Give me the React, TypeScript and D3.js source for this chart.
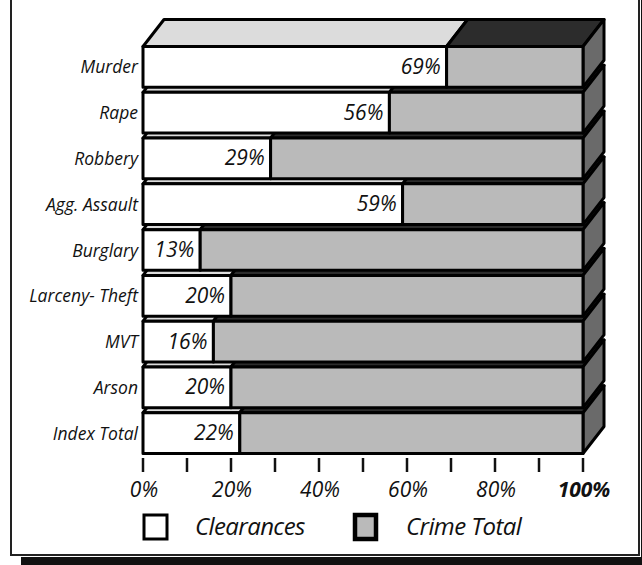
import React from "react";
import * as d3 from "d3";

const categories = ["Murder", "Rape", "Robbery", "Agg. Assault", "Burglary", "Larceny- Theft", "MVT", "Arson", "Index Total"];
const clearances = [69, 56, 29, 59, 13, 20, 16, 20, 22];
const tickValues = [0, 10, 20, 30, 40, 50, 60, 70, 80, 90, 100];
const tickLabels = [0, 20, 40, 60, 80, 100];
const legendLabels = ["Clearances", "Crime Total"];

const W = 642, H = 565;
const FONT = "'Open Sans', Lato, sans-serif";
const DX = 21, DY = 27;

export default function App() {
  const x = d3.scaleLinear().domain([0, 100]).range([143, 583]);
  const y = d3.scaleBand<string>().domain(categories).range([41.5, 458.5]).padding(0.11);
  const bw = y.bandwidth();
  const pts = (a: [number, number][]) => a.map(p => p.join(",")).join(" ");
  const order = categories.map((c, i) => i).reverse();
  const sw = 3;
  return (
    <svg width={W} height={H} style={{ position: "absolute", left: 0, top: 0, background: "#fff" }}>
      {/* frame shadow */}
      <rect x={21} y={557} width={640} height={20} fill="#111" />
      <rect x={641} y={-10} width={20} height={580} fill="#111" />
      <rect x={11} y={-10} width={628} height={565} fill="#fff" stroke="#222" strokeWidth={2} />
      {/* category labels */}
      {categories.map(c => (
        <text key={c} x={138} y={(y(c) as number) + bw / 2 + 6.5} textAnchor="end" fontFamily={FONT} fontStyle="italic" fontSize={17.5} fill="#111">{c}</text>
      ))}
      {/* bars from bottom to top */}
      {order.map(i => {
        const c = categories[i];
        const y0 = y(c) as number;
        const y1 = y0 + bw;
        const x0 = x(0), xc = x(clearances[i]), x1 = x(100);
        return (
          <g key={c} stroke="#000" strokeWidth={sw} strokeLinejoin="round">
            <polygon points={pts([[x0, y0], [xc, y0], [xc + DX, y0 - DY], [x0 + DX, y0 - DY]])} fill="#dcdcdc" />
            <polygon points={pts([[xc, y0], [x1, y0], [x1 + DX, y0 - DY], [xc + DX, y0 - DY]])} fill="#2c2c2c" />
            <polygon points={pts([[x1, y0], [x1 + DX, y0 - DY], [x1 + DX, y1 - DY], [x1, y1]])} fill="#6a6a6a" />
            <rect x={x0} y={y0} width={xc - x0} height={bw} fill="#fff" />
            <rect x={xc} y={y0} width={x1 - xc} height={bw} fill="#bababa" />
          </g>
        );
      })}
      {/* value labels */}
      {categories.map((c, i) => (
        <text key={c + "v"} x={x(clearances[i]) - 6} y={(y(c) as number) + bw / 2 + 7} textAnchor="end" fontFamily={FONT} fontStyle="italic" fontSize={21} fill="#111">{clearances[i]}%</text>
      ))}
      {/* ticks */}
      {tickValues.map(t => (
        <line key={t} x1={x(t)} x2={x(t)} y1={458} y2={472} stroke="#111" strokeWidth={2.5} />
      ))}
      {tickLabels.map(t => (
        <text key={"l" + t} x={x(t) + 1} y={497} textAnchor="middle" fontFamily={FONT} fontStyle="italic" fontSize={21} fontWeight={t === 100 ? "bold" : "normal"} fill="#111">{t}%</text>
      ))}
      {/* legend */}
      <rect x={144} y={515} width={23} height={24} fill="#fff" stroke="#000" strokeWidth={3} />
      <text x={195} y={535} fontFamily={FONT} fontStyle="italic" fontSize={24} letterSpacing={-0.6} fill="#111">{legendLabels[0]}</text>
      <rect x={355} y={515} width={21} height={24} fill="#bababa" stroke="#000" strokeWidth={4.5} />
      <text x={406} y={535} fontFamily={FONT} fontStyle="italic" fontSize={24} letterSpacing={-0.6} fill="#111">{legendLabels[1]}</text>
    </svg>
  );
}
